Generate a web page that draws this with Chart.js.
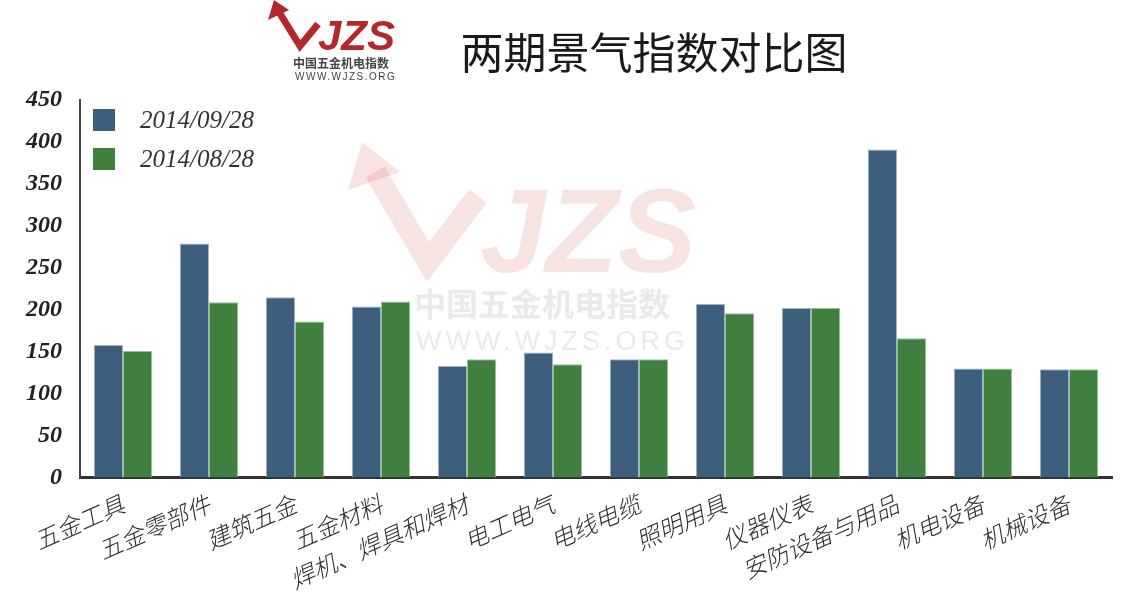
<!DOCTYPE html>
<html>
<head>
<meta charset="utf-8">
<script src="https://cdn.jsdelivr.net/npm/chart.js@4/dist/chart.umd.min.js"></script>
<style>
  html, body { margin: 0; padding: 0; background: #fff; }
</style>
</head>
<body>
<canvas id="chart" width="1138" height="602"></canvas>
<script>
// 数据
const categories = ['五金工具', '五金零部件', '建筑五金', '五金材料', '焊机、焊具和焊材', '电工电气',
  '电线电缆', '照明用具', '仪器仪表', '安防设备与用品', '机电设备', '机械设备'];
const seriesLabels = ['2014/09/28', '2014/08/28'];
const valuesSep = [158, 279, 215, 204, 133, 149, 141, 207, 202, 391, 130, 129];
const valuesAug = [151, 209, 186, 210, 141, 135, 141, 196, 202, 166, 130, 129];
const yMax = 450;
const yStep = 50;
const chartTitle = '两期景气指数对比图';
const brandCn = '中国五金机电指数';
const brandUrl = 'WWW.WJZS.ORG';
const brandMark = 'WJZS';

const BLUE = '#3e5e7e';
const GREEN = '#40803f';

// 标题、logo、水印和图例
const decorPlugin = {
  id: 'decor',
  beforeDatasetsDraw: (chart) => {
    const { ctx } = chart;
    ctx.save();
    // 水印
    ctx.strokeStyle = 'rgba(214,80,80,0.16)';
    ctx.lineWidth = 22;
    ctx.lineJoin = 'miter';
    ctx.beginPath();
    ctx.moveTo(375, 172);
    ctx.lineTo(428, 262);
    ctx.lineTo(478, 196);
    ctx.stroke();
    ctx.fillStyle = 'rgba(214,80,80,0.16)';
    ctx.beginPath();
    ctx.moveTo(348, 190);
    ctx.lineTo(362, 142);
    ctx.lineTo(400, 172);
    ctx.closePath();
    ctx.fill();
    ctx.font = 'italic bold 118px "Liberation Sans"';
    ctx.textAlign = 'left';
    ctx.textBaseline = 'alphabetic';
    ctx.fillText(brandMark.slice(1), 480, 272);
    ctx.fillStyle = 'rgba(150,150,150,0.2)';
    ctx.font = 'bold 32px "Noto Sans CJK SC"';
    ctx.fillText(brandCn, 414, 316);
    ctx.font = '27px "Liberation Sans"';
    ctx.letterSpacing = '4px';
    ctx.fillText(brandUrl, 416, 350);
    ctx.restore();
  },
  afterDraw: (chart) => {
    const { ctx } = chart;
    ctx.save();
    // 标题
    ctx.fillStyle = '#1a1a1a';
    ctx.font = '43px "Noto Sans CJK SC"';
    ctx.textAlign = 'center';
    ctx.textBaseline = 'alphabetic';
    ctx.fillText(chartTitle, 654, 69);
    // logo
    ctx.strokeStyle = '#b3282b';
    ctx.fillStyle = '#b3282b';
    ctx.lineWidth = 7;
    ctx.beginPath();
    ctx.moveTo(279, 12);
    ctx.lineTo(300, 46);
    ctx.lineTo(318, 24);
    ctx.stroke();
    ctx.beginPath();
    ctx.moveTo(268, 20);
    ctx.lineTo(274, 0);
    ctx.lineTo(289, 10);
    ctx.closePath();
    ctx.fill();
    ctx.font = 'italic bold 42px "Liberation Sans"';
    ctx.textAlign = 'left';
    ctx.fillText(brandMark.slice(1), 318, 50);
    ctx.fillStyle = '#444';
    ctx.font = 'bold 12px "Noto Sans CJK SC"';
    ctx.fillText(brandCn, 293, 68);
    ctx.font = '10px "Liberation Sans"';
    ctx.letterSpacing = '1.5px';
    ctx.fillText(brandUrl, 295, 80);
    ctx.letterSpacing = '0px';

    // 图例（放在绘图区左上角）
    const area = chart.chartArea;
    ctx.font = 'italic 25px "Liberation Serif"';
    ctx.textBaseline = 'middle';
    chart.data.datasets.forEach((ds, i) => {
      const y = area.top + 9 + i * 39;
      const x = area.left + 13;
      ctx.fillStyle = ds.backgroundColor;
      ctx.fillRect(x, y, 22, 22);
      ctx.fillStyle = '#333';
      ctx.fillText(ds.label, x + 47, y + 12);
    });
    ctx.restore();
  }
};

new Chart(document.getElementById('chart'), {
  type: 'bar',
  data: {
    labels: categories,
    datasets: [
      {
        label: seriesLabels[0],
        data: valuesSep,
        backgroundColor: BLUE,
        borderColor: '#9fb3c6',
        borderWidth: 1
      },
      {
        label: seriesLabels[1],
        data: valuesAug,
        backgroundColor: GREEN,
        borderColor: '#9cbf9b',
        borderWidth: 1
      }
    ]
  },
  options: {
    responsive: false,
    animation: false,
    layout: {
      padding: { top: 100, right: 26, bottom: 4, left: 16 }
    },
    datasets: {
      bar: { categoryPercentage: 0.68, barPercentage: 1.0 }
    },
    plugins: {
      legend: { display: false },
      tooltip: { enabled: false },
      title: { display: false }
    },
    scales: {
      x: {
        grid: { display: false },
        border: { display: true, color: '#333', width: 3 },
        ticks: {
          color: '#2a2a2a',
          minRotation: 24,
          maxRotation: 24,
          autoSkip: false,
          padding: 4,
          font: { family: '"Noto Sans CJK SC"', style: 'italic', weight: 300, size: 24 }
        }
      },
      y: {
        min: 0,
        max: yMax,
        grid: { display: false },
        border: { display: true, color: '#444', width: 2 },
        ticks: {
          stepSize: yStep,
          color: '#222',
          padding: 10,
          font: { family: '"Liberation Serif"', style: 'italic', weight: 'bold', size: 24 }
        }
      }
    }
  },
  plugins: [decorPlugin]
});
</script>
</body>
</html>
